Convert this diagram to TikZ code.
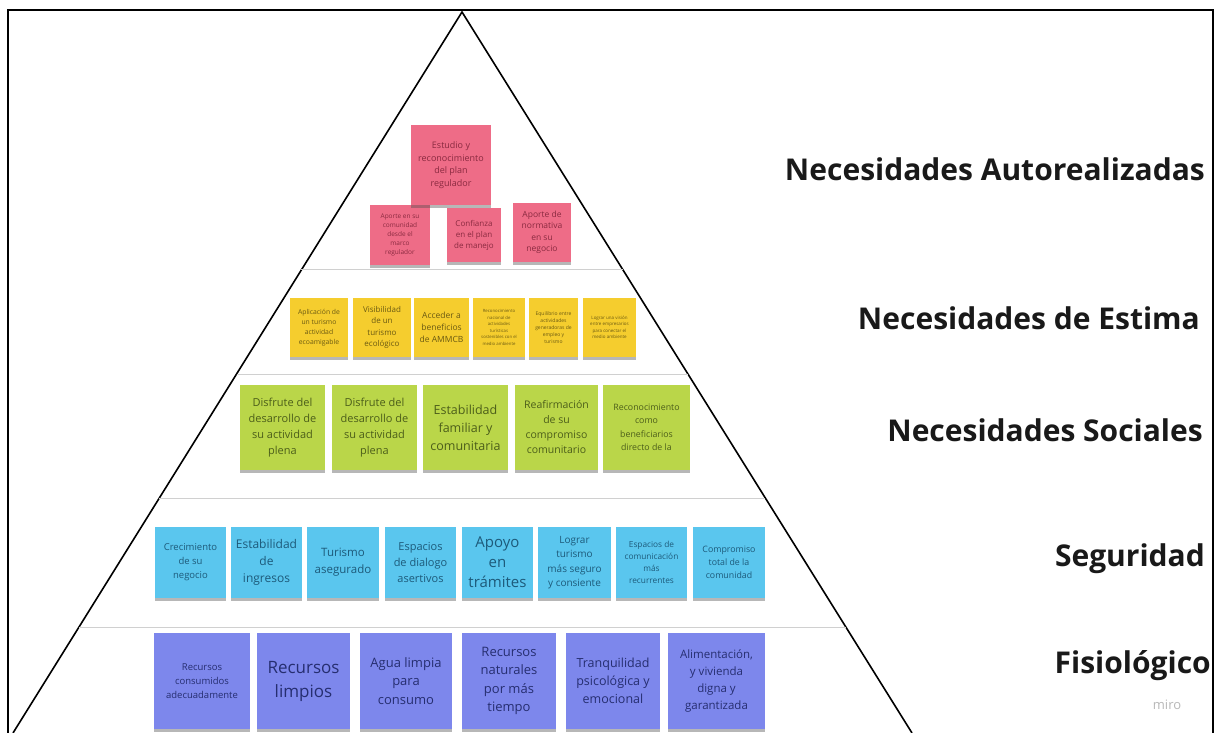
\documentclass[tikz,border=0pt]{standalone}
\usepackage{fontspec}
\setmainfont{Open Sans}
\usetikzlibrary{shadows,calc}
\definecolor{pinkF}{HTML}{EE6C87}
\definecolor{pinkT}{HTML}{8A2A40}
\definecolor{yelF}{HTML}{F5CD2E}
\definecolor{yelT}{HTML}{6B5A12}
\definecolor{grnF}{HTML}{BAD649}
\definecolor{grnT}{HTML}{4C5E1A}
\definecolor{bluF}{HTML}{5AC6EE}
\definecolor{bluT}{HTML}{1D5A7A}
\definecolor{purF}{HTML}{7D87EC}
\definecolor{purT}{HTML}{262E70}
\definecolor{sepC}{HTML}{D0D0D0}
\newcommand{\fsz}[2]{\fontsize{#1}{#2}\selectfont}
\begin{document}
\begin{tikzpicture}[x=1pt,y=-1pt,
  sticky/.style={rectangle, inner sep=0pt, align=center,
    drop shadow={shadow xshift=0pt, shadow yshift=-2.5pt, opacity=.4, fill=black!70}},
  stP/.style={sticky, fill=pinkF, text=pinkT},
  stY/.style={sticky, fill=yelF, text=yelT},
  stG/.style={sticky, fill=grnF, text=grnT},
  stB/.style={sticky, fill=bluF, text=bluT},
  stU/.style={sticky, fill=purF, text=purT},
  lbl/.style={anchor=base east, inner sep=0pt, font=\bfseries\fsz{30}{36}, text=black!90},
  sepline/.style={draw=sepC, line width=1pt},
  tri/.style={draw=black, line width=1.6pt},
]
\useasboundingbox (0,0) rectangle (1216,733);
\fill[white] (0,0) rectangle (1216,733);
\begin{scope}
\clip (0,0) rectangle (1216,733);
% frame
\draw[line width=2.8pt] (8,740) -- (8,10) -- (1213,10) -- (1213,740);
% pyramid
\coordinate (A) at (462,12);
\coordinate (BL) at (13,733);
\coordinate (BR) at (912,733);
\draw[tri] (BL) -- (A) -- (BR);
% separators
\foreach \t in {0.3578,0.5021,0.6741,0.853}{
  \draw[sepline] ($(A)!\t!(BL)$) -- ($(A)!\t!(BR)$);
}
\end{scope}

% pink
\node[stP, minimum width=60pt, minimum height=60pt, font=\fsz{6.5}{9.2}] (p2) at (400,235) {Aporte en su\\comunidad\\desde el\\marco\\regulador};
\node[stP, minimum width=80pt, minimum height=80pt, font=\fsz{9}{12.5}] (p1) at (451,165) {Estudio y\\reconocimiento\\del plan\\regulador};
\node[stP, minimum width=54pt, minimum height=54pt, font=\fsz{8}{11}] (p3) at (474,235) {Confianza\\en el plan\\de manejo};
\node[stP, minimum width=58pt, minimum height=59pt, font=\fsz{8.5}{11.5}] (p4) at (542,232.5) {Aporte de\\normativa\\en su\\negocio};

% yellow
\node[stY, minimum width=58pt, minimum height=59pt, font=\fsz{6.8}{10}] (y1) at (319,327.5) {Aplicación de\\un turismo\\actividad\\ecoamigable};
\node[stY, minimum width=58pt, minimum height=59pt, font=\fsz{8}{11.5}] (y2) at (382,327.5) {Visibilidad\\de un\\turismo\\ecológico};
\node[stY, minimum width=55pt, minimum height=59pt, font=\fsz{8.5}{12}] (y3) at (441.5,327.5) {Acceder a\\beneficios\\de AMMCB};
\node[stY, minimum width=52pt, minimum height=59pt, font=\fsz{4.3}{6.5}] (y4) at (499,327.5) {Reconocimiento\\nacional de\\actividades\\turísticas\\sostenibles con el\\medio ambiente};
\node[stY, minimum width=49pt, minimum height=59pt, font=\fsz{5}{7}] (y5) at (553.5,327.5) {Equilibrio entre\\actividades\\generadoras de\\empleo y\\turismo};
\node[stY, minimum width=53pt, minimum height=59pt, font=\fsz{4.5}{6.5}] (y6) at (609.5,327.5) {Lograr una visión\\entre empresarios\\para conectar el\\medio ambiente};

% green
\node[stG, minimum width=85pt, minimum height=85pt, font=\fsz{11}{16}] (g1) at (282.5,427.5) {Disfrute del\\desarrollo de\\su actividad\\plena};
\node[stG, minimum width=85pt, minimum height=85pt, font=\fsz{11}{16}] (g2) at (374.5,427.5) {Disfrute del\\desarrollo de\\su actividad\\plena};
\node[stG, minimum width=85pt, minimum height=85pt, font=\fsz{12.5}{18}] (g3) at (465.5,427.5) {Estabilidad\\familiar y\\comunitaria};
\node[stG, minimum width=83pt, minimum height=85pt, font=\fsz{10.5}{15}] (g4) at (556.5,427.5) {Reafirmación\\de su\\compromiso\\comunitario};
\node[stG, minimum width=87pt, minimum height=85pt, font=\fsz{8.8}{13.5}] (g5) at (646.5,427.5) {Reconocimiento\\como\\beneficiarios\\directo de la};

% blue
\node[stB, minimum width=71pt, minimum height=71pt, font=\fsz{9.5}{14}] (b1) at (190.5,562.5) {Crecimiento\\de su\\negocio};
\node[stB, minimum width=71pt, minimum height=71pt, font=\fsz{12}{17}] (b2) at (266.5,562.5) {Estabilidad\\de\\ingresos};
\node[stB, minimum width=72pt, minimum height=71pt, font=\fsz{11.5}{17}] (b3) at (343,562.5) {Turismo\\asegurado};
\node[stB, minimum width=71pt, minimum height=71pt, font=\fsz{11}{16}] (b4) at (420.5,562.5) {Espacios\\de dialogo\\asertivos};
\node[stB, minimum width=71pt, minimum height=71pt, font=\fsz{15}{20}] (b5) at (497.5,562.5) {Apoyo\\en\\trámites};
\node[stB, minimum width=73pt, minimum height=71pt, font=\fsz{10}{14.5}] (b6) at (574.5,562.5) {Lograr\\turismo\\más seguro\\y consiente};
\node[stB, minimum width=71pt, minimum height=71pt, font=\fsz{8.3}{12}] (b7) at (651.5,562.5) {Espacios de\\comunicación\\más\\recurrentes};
\node[stB, minimum width=72pt, minimum height=71pt, font=\fsz{8.8}{13}] (b8) at (729,562.5) {Compromiso\\total de la\\comunidad};

% purple
\node[stU, minimum width=96pt, minimum height=96pt, font=\fsz{9.5}{14}] (u1) at (202,681) {Recursos\\consumidos\\adecuadamente};
\node[stU, minimum width=93pt, minimum height=96pt, font=\fsz{17}{24}] (u2) at (303.5,681) {Recursos\\limpios};
\node[stU, minimum width=92pt, minimum height=96pt, font=\fsz{13}{18.5}] (u3) at (406,681) {Agua limpia\\para\\consumo};
\node[stU, minimum width=94pt, minimum height=96pt, font=\fsz{13}{18.5}] (u4) at (509,681) {Recursos\\naturales\\por más\\tiempo};
\node[stU, minimum width=94pt, minimum height=96pt, font=\fsz{12.5}{18}] (u5) at (613,681) {Tranquilidad\\psicológica y\\emocional};
\node[stU, minimum width=97pt, minimum height=96pt, font=\fsz{11.5}{17}] (u6) at (716.5,681) {Alimentación,\\y vivienda\\digna y\\garantizada};

% labels
\node[lbl] (l1) at (1205,181) {Necesidades Autorealizadas};
\node[lbl] (l2) at (1200,329) {Necesidades de Estima};
\node[lbl] (l3) at (1203,441) {Necesidades Sociales};
\node[lbl] (l4) at (1205,566) {Seguridad};
\node[lbl] (l5) at (1211,673) {Fisiológico};
\node[anchor=center, inner sep=0pt, font=\fsz{13}{15}, text=black!28] (miro) at (1167,705) {miro};
\end{tikzpicture}
\end{document}
